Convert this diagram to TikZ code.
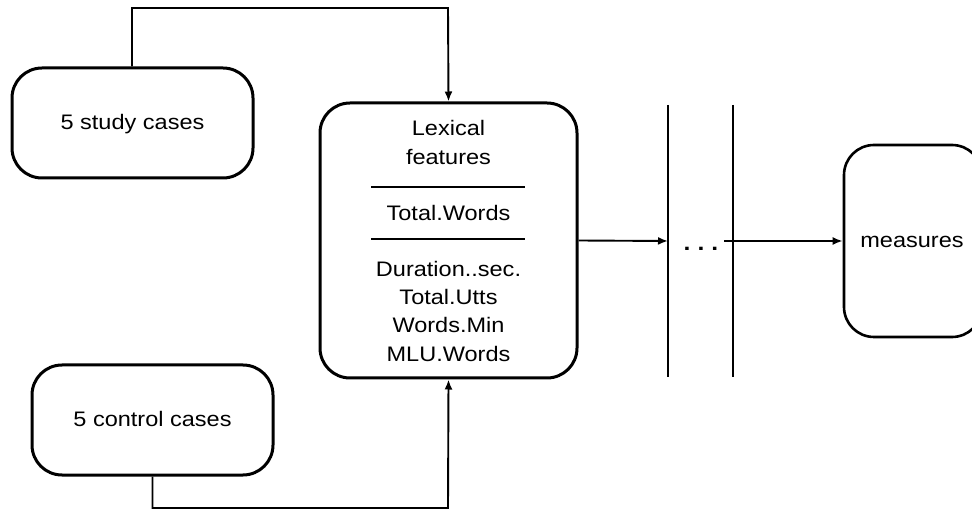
\documentclass[tikz,border=0pt]{standalone}
\usepackage{fontspec}
\setmainfont{Liberation Sans}[FakeStretch=1.12]
\usetikzlibrary{arrows.meta}
\begin{document}
\begin{tikzpicture}[x=1pt,y=-1pt,
  box/.style={draw,line width=3pt,rounded corners=30pt,inner sep=0pt},
  txt/.style={font=\fontsize{21}{24}\selectfont,inner sep=0pt,anchor=base},
  conn/.style={line width=1.9pt},
  arr/.style={conn,-{Latex[length=10pt,width=8pt]}}]
\path[use as bounding box,clip] (0,0) rectangle (972,510);
% boxes
\node[box,minimum width=241pt,minimum height=110pt] (study) at (132.5,123) {};
\node[txt] (studyt) at (132.5,130) {5 study cases};
\node[box,minimum width=241pt,minimum height=110pt] (ctrl) at (152.5,420) {};
\node[txt] (ctrlt) at (152.5,427) {5 control cases};
\node[box,minimum width=257pt,minimum height=275pt] (lex) at (448.5,240.5) {};
\node[box,line width=2.6pt,minimum width=138pt,minimum height=192pt] (meas) at (913,241) {};
\node[txt] (meast) at (912,248) {measures};
% text in lexical box
\node[txt] (l1) at (448.5,136) {Lexical};
\node[txt] (l2) at (448.5,165) {features};
\node[txt] (l3) at (448.5,221) {Total.Words};
\node[txt] (l4) at (448.5,277) {Duration..sec.};
\node[txt] (l5) at (448.5,305) {Total.Utts};
\node[txt] (l6) at (448.5,333) {Words.Min};
\node[txt] (l7) at (448.5,361.5) {MLU.Words};
\draw[line width=1.6pt] (371,187) -- (525,187);
\draw[line width=1.6pt] (371,239) -- (525,239);
% vertical bars
\coordinate (b1t) at (668,105); \coordinate (b1b) at (668,377);
\coordinate (b2t) at (733,105); \coordinate (b2b) at (733,377);
\draw[conn] (b1t) -- (b1b);
\draw[conn] (b2t) -- (b2b);
\coordinate (b1m) at (668,241);
\coordinate (dend) at (724,241);
\node[txt,font=\fontsize{22}{24}\selectfont\bfseries] (dots) at (701,251) {.\hspace{7pt}.\hspace{7pt}.};
% connectors
\draw[arr] (lex.east) -- (b1m);
\draw[arr] (dend) -- (meas.west);
\draw[arr] (study.north -| 132,0) |- (448,8) -- (lex.north);
\draw[arr] (ctrl.south) |- (448,508) -- (lex.south);
\end{tikzpicture}
\end{document}
